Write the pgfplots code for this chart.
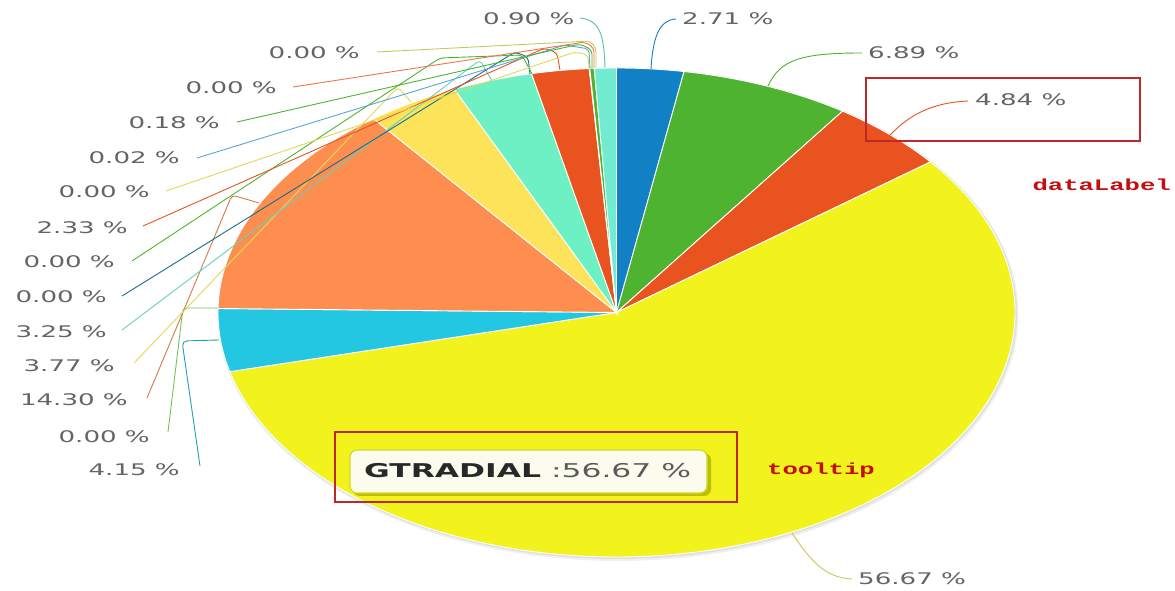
\documentclass[border=0pt]{standalone}
\usepackage{pgfplots}
\pgfplotsset{compat=1.18}
\usepackage{fontspec}
\setmainfont{DejaVu Sans}
\newfontfamily\labfont[FakeStretch=1.63]{DejaVu Sans}
\newfontfamily\tipfont[FakeStretch=1.65]{DejaVu Sans}
\newfontfamily\redfont[FakeStretch=1.6]{Liberation Mono}
\definecolor{cblue}{RGB}{18,128,196}
\definecolor{cgreen}{RGB}{77,179,48}
\definecolor{cred}{RGB}{232,83,31}
\definecolor{cyellow}{RGB}{242,242,28}
\definecolor{ccyan}{RGB}{36,199,226}
\definecolor{corange}{RGB}{253,142,80}
\definecolor{clyellow}{RGB}{252,227,90}
\definecolor{caqua}{RGB}{108,240,196}
\definecolor{cmint}{RGB}{114,236,208}
\definecolor{cteal}{RGB}{20,110,140}
\definecolor{lineyellow}{RGB}{225,215,90}
\definecolor{lineolive}{RGB}{200,200,90}
\definecolor{lineaqua}{RGB}{100,210,190}
\definecolor{labgray}{RGB}{100,100,100}
\definecolor{annred}{RGB}{190,40,40}
\definecolor{txtred}{RGB}{195,15,15}
% slice: #1 cumulative start (%), #2 value (%), #3 colour
\newcommand{\pieslice}[3]{%
  \fill[#3, draw=white, line width=0.9pt]
    (axis cs:616.5,278.5) --
    (axis cs:{616.5+398.5*cos(90-3.6*#1)},{278.5+244.5*sin(90-3.6*#1)})
    arc[start angle={90-3.6*#1}, end angle={90-3.6*(#1+#2)}, x radius=398.5, y radius=244.5]
    -- cycle;}
\newcommand{\lab}[3]{\node[anchor=#1, inner sep=0pt, text=labgray, font=\labfont\fontsize{16}{18}\selectfont] at (axis cs:#2) {#3};}
\begin{document}
\begin{tikzpicture}
\begin{axis}[name=ax, x=1pt, y=1pt, xmin=0, xmax=1175, ymin=0, ymax=591,
  hide axis, clip=false, scale only axis]
% shadow
\fill[black!6] (axis cs:618,276.5) ellipse[x radius=400.5, y radius=246.5];
\fill[black!12] (axis cs:617.5,277.5) ellipse[x radius=399.5, y radius=245.5];
% slices (clockwise from 12 o'clock)
\pieslice{0}{2.71}{cblue}
\pieslice{2.71}{6.89}{cgreen}
\pieslice{9.60}{4.84}{cred}
\pieslice{14.44}{56.67}{cyellow}
\pieslice{71.11}{4.15}{ccyan}
\pieslice{75.26}{14.30}{corange}
\pieslice{89.56}{3.77}{clyellow}
\pieslice{93.33}{3.25}{caqua}
\pieslice{96.58}{2.33}{cred}
\pieslice{98.91}{0.02}{ccyan}
\pieslice{98.93}{0.18}{cgreen}
\pieslice{99.11}{0.89}{cmint}
% connectors
\begin{scope}[line width=0.9pt]
\draw[cblue] (axis cs:651,522) .. controls (axis cs:653,556) and (axis cs:660,571) .. (axis cs:676,572);
\draw[cgreen] (axis cs:768,505) .. controls (axis cs:780,531) and (axis cs:800,538) .. (axis cs:862,538);
\draw[cred] (axis cs:890,456) .. controls (axis cs:905,471) and (axis cs:925,488) .. (axis cs:968,490);
\draw[lineolive] (axis cs:792,58) .. controls (axis cs:810,31) and (axis cs:825,13) .. (axis cs:852,12);
\draw[ccyan!80!black, rounded corners=5pt] (axis cs:219,251) -- (axis cs:182,250) -- (axis cs:200,125);
\draw[cgreen!80, rounded corners=4pt] (axis cs:218,283) -- (axis cs:183,283) -- (axis cs:168,159);
\draw[corange!85!black, rounded corners=4pt] (axis cs:259,388) -- (axis cs:232,396) -- (axis cs:147,193);
\draw[lineyellow, rounded corners=4pt] (axis cs:411,489) -- (axis cs:398,504) -- (axis cs:134,228);
\draw[lineaqua, rounded corners=4pt] (axis cs:492,510) -- (axis cs:480,531) -- (axis cs:122,261);
\draw[cteal, rounded corners=4pt] (axis cs:530,517) -- (axis cs:528,534) -- (axis cs:515,539) -- (axis cs:122,295);
\draw[cgreen, rounded corners=4pt] (axis cs:532,517) -- (axis cs:522,536) -- (axis cs:440,533) -- (axis cs:132,330);
\draw[cred, rounded corners=4pt] (axis cs:560,521) -- (axis cs:557,538) -- (axis cs:545,543) -- (axis cs:143,365);
\draw[lineyellow, rounded corners=4pt] (axis cs:589,522) -- (axis cs:588,536) -- (axis cs:575,539) -- (axis cs:166,400);
\draw[cblue!70, rounded corners=4pt] (axis cs:590,522) -- (axis cs:589,542) -- (axis cs:565,546) -- (axis cs:197,433);
\draw[cgreen, rounded corners=4pt] (axis cs:592,522) -- (axis cs:592,541) -- (axis cs:580,547) -- (axis cs:237,469);
\draw[cred!80, rounded corners=4pt] (axis cs:594,523) -- (axis cs:594,543) -- (axis cs:585,549) -- (axis cs:293,504);
\draw[lineolive, rounded corners=4pt] (axis cs:596,523) -- (axis cs:596,543) -- (axis cs:590,550) -- (axis cs:377,539);
\draw[cmint!80!black] (axis cs:605,523) .. controls (axis cs:604,556) and (axis cs:600,571) .. (axis cs:580,573);
\end{scope}
% data labels
\lab{west}{483,572}{0.90 \%}
\lab{west}{682,572}{2.71 \%}
\lab{west}{868,538}{6.89 \%}
\lab{west}{975,491}{4.84 \%}
\lab{west}{858,12}{56.67 \%}
\lab{east}{360,538}{0.00 \%}
\lab{east}{277,503}{0.00 \%}
\lab{east}{220,468}{0.18 \%}
\lab{east}{180,433}{0.02 \%}
\lab{east}{150,399}{0.00 \%}
\lab{east}{128,363}{2.33 \%}
\lab{east}{115,329}{0.00 \%}
\lab{east}{107,294}{0.00 \%}
\lab{east}{107,259}{3.25 \%}
\lab{east}{115,225}{3.77 \%}
\lab{east}{128,191}{14.30 \%}
\lab{east}{150,154}{0.00 \%}
\lab{east}{180,121}{4.15 \%}
% tooltip
\fill[rounded corners=7pt, fill={rgb,255:red,190;green,190;blue,0}] (axis cs:353,95) rectangle (axis cs:711,138);
\draw[rounded corners=7pt, fill={rgb,255:red,252;green,252;blue,238}, draw={rgb,255:red,215;green,215;blue,40}, line width=1.2pt] (axis cs:350,98) rectangle (axis cs:707,141);
\node[anchor=west, inner sep=0pt, font=\tipfont\fontsize{19}{21}\selectfont] at (axis cs:364,120)
  {\textcolor[RGB]{40,40,40}{\bfseries GTRADIAL}\textcolor[RGB]{90,90,90}{\ :56.67 \%}};
% annotations
\draw[annred, line width=1.3pt] (axis cs:866,513) rectangle (axis cs:1140,450);
\draw[annred, line width=1.3pt] (axis cs:335,159) rectangle (axis cs:737,89);
\node[anchor=east, inner sep=0pt, text=txtred, font=\redfont\bfseries\fontsize{16}{18}\selectfont] at (axis cs:1171,406) {dataLabel};
\node[anchor=west, inner sep=0pt, text=txtred, font=\redfont\bfseries\fontsize{16}{18}\selectfont] at (axis cs:767,121) {tooltip};
\end{axis}
\pgfresetboundingbox
\path (ax.south west) rectangle (ax.north east);
\end{tikzpicture}
\end{document}
